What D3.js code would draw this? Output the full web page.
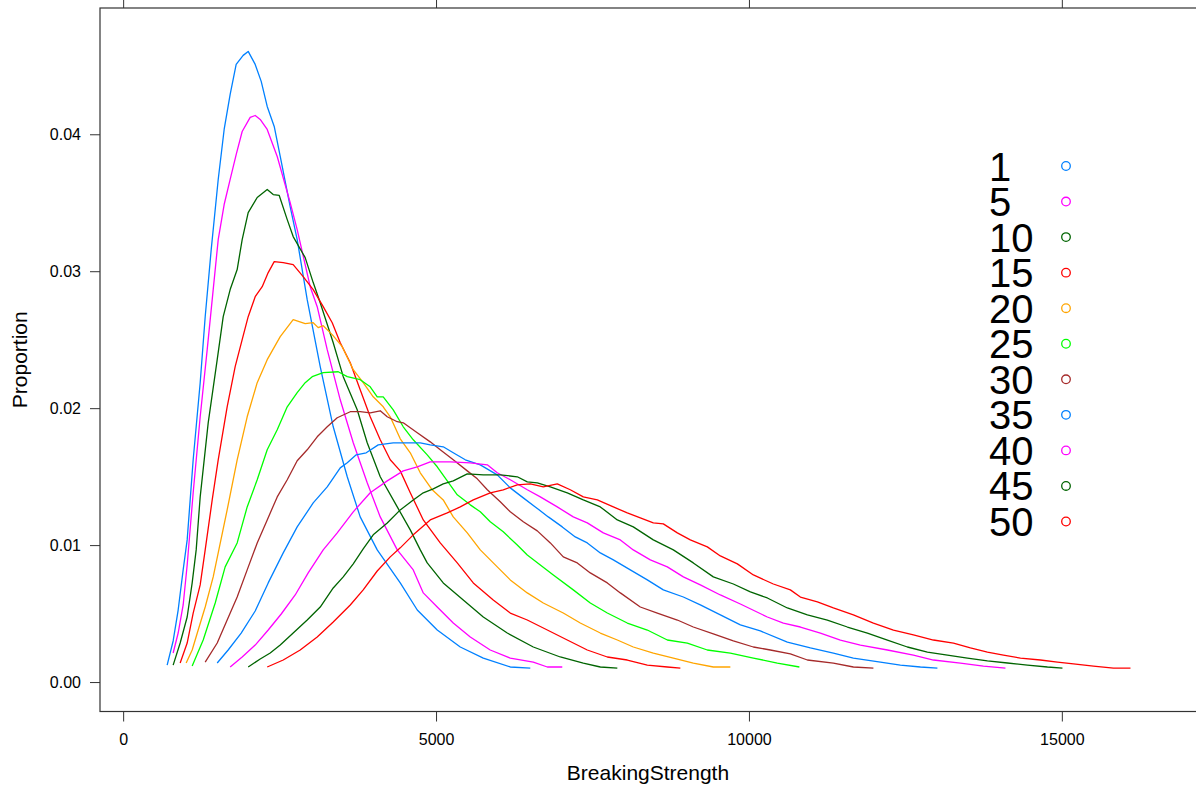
<!DOCTYPE html>
<html>
<head>
<meta charset="utf-8">
<script src="https://cdn.jsdelivr.net/npm/d3@7"></script>
<style>
  html, body { margin: 0; padding: 0; background: #fff; }
  svg { display: block; font-family: "Liberation Sans", Arial, Helvetica, sans-serif; }
</style>
</head>
<body>
<svg id="chart" width="1196" height="793"></svg>
<script>
// ---- data ----
const groups = ["1", "5", "10", "15", "20", "25", "30", "35", "40", "45", "50"];
const colors = ["#0080ff", "#ff00ff", "darkgreen", "#ff0000", "orange", "#00ff00", "brown"];
const xTicks = [0, 5000, 10000, 15000];
const yTicks = [0, 0.01, 0.02, 0.03, 0.04];

const x1 = [703,799,879,959,1023,1119,1231,1311,1407,1519,1614,1710,1806,1918,1998,2110,2206,2302,2414,2510,2669,2781,2941,3149,3357,3581,3788,4060,4428,4700,5019,5387,5755,6186,6506];
const y1 = [0.00124,0.0030,0.00526,0.00819,0.01038,0.01623,0.02186,0.02668,0.03158,0.0367,0.04035,0.04291,0.0451,0.04576,0.04605,0.0451,0.04386,0.04203,0.04057,0.03838,0.03472,0.03231,0.02792,0.02303,0.01864,0.01499,0.01206,0.00965,0.00724,0.00526,0.0038,0.00256,0.00175,0.0011,0.00102];

const x5 = [799,879,959,1023,1119,1231,1343,1439,1519,1614,1710,1806,1902,2030,2110,2190,2302,2462,2669,2781,2989,3101,3261,3469,3677,3900,4108,4380,4636,4796,5019,5275,5547,5866,6186,6554,6778,7017];
const y5 = [0.00212,0.00358,0.00563,0.00855,0.01382,0.01937,0.02427,0.02866,0.03231,0.03487,0.0367,0.03852,0.0402,0.04123,0.04137,0.04108,0.04035,0.03838,0.03501,0.03304,0.02887,0.02741,0.02427,0.02061,0.01747,0.01455,0.01206,0.00965,0.00819,0.00651,0.00548,0.00431,0.00329,0.00234,0.00175,0.00146,0.0011,0.0011];

const x10 = [799,911,1023,1103,1167,1231,1359,1503,1599,1710,1822,1902,1998,2142,2302,2398,2494,2622,2717,2909,3037,3149,3357,3517,3740,3900,4108,4380,4588,4748,4859,5115,5435,5755,6138,6554,6985,7353,7625,7897];
const y10 = [0.00124,0.00285,0.00475,0.00724,0.00965,0.01352,0.01893,0.02354,0.02668,0.02866,0.03012,0.03231,0.03428,0.03538,0.03597,0.0356,0.03553,0.03377,0.03253,0.03099,0.02917,0.0277,0.02478,0.0223,0.01988,0.01747,0.01499,0.01279,0.01111,0.00965,0.0087,0.00724,0.00599,0.00475,0.00358,0.00256,0.00183,0.00139,0.0011,0.00102];

const x15 = [911,1023,1119,1231,1311,1423,1519,1662,1790,1902,1998,2110,2222,2318,2414,2558,2717,2877,3037,3197,3341,3469,3629,3788,3948,4108,4268,4428,4588,4796,5067,5339,5595,5914,6186,6458,6778,7097,7417,7737,8056,8376,8696,8904];
const y15 = [0.00139,0.00285,0.00504,0.00709,0.00965,0.0133,0.01623,0.0201,0.02303,0.025,0.02668,0.02814,0.02887,0.0299,0.0307,0.03063,0.03048,0.0296,0.02866,0.02741,0.02624,0.02478,0.02332,0.02135,0.01937,0.01769,0.01623,0.01542,0.01382,0.01184,0.01016,0.0087,0.00724,0.00599,0.00504,0.00453,0.0038,0.00307,0.00234,0.00183,0.00161,0.00124,0.0011,0.00102];

const x20 = [1007,1103,1199,1311,1439,1519,1662,1822,1982,2142,2302,2510,2717,2909,3037,3117,3197,3341,3501,3677,3836,3996,4156,4268,4428,4588,4748,4939,5115,5275,5499,5707,5978,6186,6458,6714,7033,7305,7625,7897,8152,8472,8792,9111,9431,9703];
const y20 = [0.00139,0.00234,0.0038,0.00548,0.00768,0.00943,0.01257,0.01623,0.01937,0.02186,0.02354,0.02522,0.02646,0.02617,0.02624,0.02588,0.02602,0.02537,0.02449,0.02281,0.02186,0.02083,0.0201,0.01937,0.01776,0.01674,0.01528,0.01404,0.0133,0.01206,0.01089,0.00965,0.00841,0.00746,0.00651,0.00577,0.00504,0.00431,0.00358,0.00307,0.00256,0.00212,0.00175,0.00139,0.0011,0.0011];

const x25 = [1103,1279,1471,1630,1822,1982,2142,2302,2462,2622,2781,2909,3021,3197,3437,3581,3788,3948,4060,4156,4316,4476,4636,4859,5019,5179,5339,5547,5707,5866,6074,6298,6458,6666,6874,7193,7465,7737,8056,8376,8696,9016,9335,9703,10071,10454,10806];
const y25 = [0.00117,0.00307,0.00577,0.00841,0.01016,0.01279,0.01477,0.01696,0.01842,0.0201,0.02113,0.02186,0.0223,0.02259,0.02266,0.0223,0.02208,0.02156,0.02083,0.02083,0.01988,0.01864,0.01769,0.01659,0.01572,0.01469,0.01367,0.01294,0.01243,0.0117,0.01097,0.01001,0.00928,0.00855,0.00782,0.00673,0.00577,0.00504,0.00431,0.0038,0.00307,0.00285,0.00234,0.00212,0.00175,0.00139,0.0011];

const x30 = [1311,1503,1662,1822,1982,2142,2302,2462,2622,2781,2941,3101,3261,3421,3629,3788,3948,4108,4220,4380,4476,4700,4907,5067,5275,5499,5659,5819,6026,6186,6394,6618,6826,7033,7257,7465,7737,7945,8264,8536,8856,9111,9431,9751,10071,10342,10662,10934,11349,11669,11989];
const y30 = [0.00146,0.00285,0.00453,0.00621,0.00819,0.01016,0.01184,0.01352,0.01477,0.01616,0.01696,0.01791,0.01864,0.0193,0.01974,0.01974,0.01966,0.01981,0.01937,0.01901,0.01893,0.0182,0.01754,0.01696,0.01623,0.01542,0.01484,0.01404,0.01316,0.01243,0.0117,0.01104,0.01016,0.00914,0.0087,0.00797,0.00724,0.00651,0.00548,0.00504,0.00453,0.00402,0.00351,0.003,0.00256,0.00234,0.00205,0.00161,0.00139,0.0011,0.00102];

const x35 = [1503,1678,1886,2110,2318,2558,2781,3037,3261,3469,3581,3725,3884,4076,4316,4540,4748,4907,5115,5275,5467,5707,5978,6186,6394,6586,6794,7017,7225,7417,7625,7833,8104,8376,8632,8952,9223,9543,9863,10182,10614,10982,11349,11669,12101,12420,12740,13012];
const y35 = [0.00139,0.00234,0.00358,0.00519,0.00724,0.00943,0.01133,0.01308,0.01425,0.01564,0.01601,0.01659,0.01674,0.01732,0.01747,0.01747,0.01747,0.01732,0.01718,0.01674,0.01623,0.01586,0.01513,0.01418,0.01345,0.01279,0.01206,0.01133,0.0106,0.01016,0.00943,0.00892,0.00819,0.00746,0.00673,0.00621,0.00563,0.0049,0.00417,0.00373,0.00292,0.00249,0.00212,0.00175,0.00146,0.00124,0.0011,0.00102];

const x40 = [1710,1902,2110,2318,2526,2749,2957,3197,3421,3677,3948,4220,4476,4700,4907,5227,5547,5819,5978,6186,6458,6666,6937,7193,7417,7673,7945,8152,8424,8696,8952,9223,9543,9863,10294,10550,10822,11142,11461,11781,12213,12628,12948,13379,13747,14099];
const y40 = [0.0011,0.00183,0.0027,0.0038,0.00497,0.00636,0.00797,0.00965,0.01089,0.01243,0.01382,0.01469,0.01542,0.01572,0.01608,0.01608,0.01601,0.01586,0.01528,0.01477,0.01404,0.01352,0.01279,0.01206,0.01162,0.01089,0.01038,0.00965,0.00892,0.00841,0.00768,0.00709,0.00636,0.0057,0.00475,0.00431,0.00402,0.00358,0.00307,0.0027,0.00234,0.00197,0.00161,0.00139,0.00117,0.00102];

const x45 = [1998,2190,2350,2510,2717,2941,3149,3357,3517,3677,3836,3996,4220,4428,4636,4796,4955,5115,5275,5499,5755,6026,6298,6458,6618,6826,7097,7353,7625,7897,8152,8472,8792,9111,9431,9751,10023,10294,10614,10934,11253,11573,11893,12213,12532,12852,13172,13491,13811,14131,14450,14770,15010];
const y45 = [0.0011,0.00168,0.00212,0.0027,0.00358,0.00453,0.00548,0.00687,0.00768,0.00863,0.00972,0.01075,0.01162,0.01257,0.0133,0.01382,0.01411,0.01447,0.01469,0.0152,0.01513,0.01513,0.01499,0.01462,0.01455,0.01425,0.01382,0.0133,0.01279,0.01184,0.01133,0.01038,0.00965,0.0087,0.00768,0.00716,0.00658,0.00614,0.00541,0.0049,0.00453,0.00402,0.00358,0.00307,0.00256,0.00219,0.00197,0.00175,0.00154,0.00139,0.00124,0.0011,0.00102];

const x50 = [2302,2558,2829,3101,3357,3629,3836,4060,4268,4428,4636,4907,5179,5387,5595,5866,6074,6298,6506,6714,6937,7145,7353,7577,7833,8056,8264,8472,8632,8856,9063,9335,9543,9815,10071,10390,10662,10822,11094,11349,11669,11989,12309,12628,12948,13268,13539,13811,14067,14339,14658,14930,15186,15505,15825,16097];
const y50 = [0.0011,0.00161,0.00234,0.00329,0.00439,0.00563,0.00673,0.00811,0.00914,0.0098,0.01075,0.01184,0.01235,0.01279,0.0133,0.01382,0.01404,0.0144,0.01447,0.01425,0.01447,0.01404,0.01352,0.0133,0.01279,0.01235,0.01199,0.01162,0.01155,0.01089,0.01038,0.00987,0.00921,0.00863,0.00782,0.00716,0.00673,0.00621,0.00585,0.00541,0.0049,0.00431,0.0038,0.00344,0.00307,0.00285,0.00249,0.00219,0.00197,0.00175,0.00161,0.00146,0.00132,0.00117,0.00102,0.00102];

const seriesX = [x1, x5, x10, x15, x20, x25, x30, x35, x40, x45, x50];
const seriesY = [y1, y5, y10, y15, y20, y25, y30, y35, y40, y45, y50];

// ---- chart ----
const svg = d3.select("#chart");
const panel = { left: 100, right: 1197, top: 8, bottom: 711.5 };

const x = d3.scaleLinear().domain([-370, 17160]).range([panel.left, panel.right]);
const y = d3.scaleLinear().domain([-0.00215, 0.04922]).range([panel.bottom, panel.top]);

const axisColor = "#333";
const line = d3.line().x(d => x(d[0])).y(d => y(d[1]));

// curves
const curves = svg.append("g").attr("fill", "none").attr("stroke-width", 1.3).attr("stroke-linejoin", "round");
groups.forEach((g, i) => {
  const pts = seriesX[i].map((v, j) => [v, seriesY[i][j]]);
  curves.append("path")
    .datum(pts)
    .attr("stroke", colors[i % colors.length])
    .attr("d", line);
});

// axes
function styleAxis(sel) {
  sel.select(".domain").remove();
  sel.selectAll(".tick line").attr("stroke", axisColor).attr("stroke-width", 1);
  sel.selectAll(".tick text").attr("fill", "#000").attr("font-size", 16)
     .attr("font-family", "'Liberation Sans', Arial, sans-serif");
}

svg.append("g")
  .attr("transform", `translate(0,${panel.bottom})`)
  .call(d3.axisBottom(x).tickValues(xTicks).tickFormat(d3.format("d")).tickSize(10).tickPadding(12))
  .call(styleAxis);

svg.append("g")
  .attr("transform", `translate(0,${panel.top})`)
  .call(d3.axisTop(x).tickValues(xTicks).tickFormat("").tickSize(10))
  .call(styleAxis);

svg.append("g")
  .attr("transform", `translate(${panel.left},0)`)
  .call(d3.axisLeft(y).tickValues(yTicks).tickFormat(d3.format(".2f")).tickSize(10).tickPadding(9))
  .call(styleAxis);

// panel border
svg.append("rect")
  .attr("x", panel.left).attr("y", panel.top)
  .attr("width", panel.right - panel.left).attr("height", panel.bottom - panel.top)
  .attr("fill", "none").attr("stroke", axisColor).attr("stroke-width", 1.2);

// axis titles
svg.append("text")
  .attr("x", (panel.left + 1196) / 2).attr("y", 780)
  .attr("text-anchor", "middle").attr("font-size", 21).attr("fill", "#000")
  .text("BreakingStrength");

svg.append("text")
  .attr("transform", `translate(27,${(panel.top + panel.bottom) / 2}) rotate(-90)`)
  .attr("text-anchor", "middle").attr("font-size", 21).attr("fill", "#000")
  .text("Proportion");

// legend
const legendTop = 166, legendStep = 35.55;
const legend = svg.append("g");
groups.forEach((g, i) => {
  const cy = legendTop + i * legendStep;
  legend.append("text")
    .attr("x", 989).attr("y", cy + 14.5)
    .attr("font-size", 40).attr("fill", "#000")
    .text(g);
  legend.append("circle")
    .attr("cx", 1066).attr("cy", cy).attr("r", 4.3)
    .attr("fill", "none").attr("stroke", colors[i % colors.length]).attr("stroke-width", 1.3);
});
</script>
</body>
</html>
